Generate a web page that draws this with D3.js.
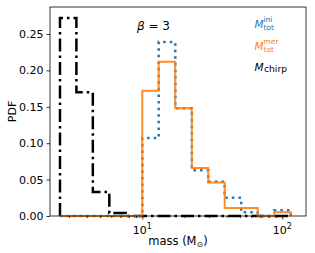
<!DOCTYPE html>
<html>
<head>
<meta charset="utf-8">
<script src="https://d3js.org/d3.v7.min.js"></script>
<style>
  body { margin: 0; background: #fff; }
  text { font-family: "DejaVu Sans", sans-serif; }
</style>
</head>
<body>
<div id="vis-container"></div>
<script>
// shared log-spaced bin edges (mass, Msun)
const binEdges = [2.58, 3.38, 4.43, 5.81, 7.62, 10.0, 13.1, 17.2, 22.6, 29.6, 38.8, 50.9, 66.8, 87.6, 115];

// PDF per bin
const chirpPdf = [0.272, 0.170, 0.033, 0.004, 0, 0, 0, 0, 0, 0, 0, 0, 0, 0];
const merPdf   = [0, 0, 0, 0, 0, 0.172, 0.212, 0.148, 0.066, 0.046, 0.011, 0.011, 0, 0.005];
const iniPdf   = [0, 0, 0, 0, 0, 0.107, 0.239, 0.148, 0.063, 0.047, 0.025, 0.005, 0, 0.008];

const yTicks = [0, 0.05, 0.10, 0.15, 0.20, 0.25];
const xMajor = [10, 100];
const xMinor = [3, 4, 5, 6, 7, 8, 9, 20, 30, 40, 50, 60, 70, 80, 90];

const width = 315, height = 253;
const plotLeft = 50, plotRight = 306, plotTop = 7, plotBottom = 216;

const svg = d3.select("#vis-container")
  .append("svg")
  .attr("width", width)
  .attr("height", height);

const xScale = d3.scaleLog()
  .domain([2.189, 147.9])
  .range([plotLeft, plotRight]);

const yScale = d3.scaleLinear()
  .domain([0, 0.2871])
  .range([plotBottom, plotTop]);

// step outline like matplotlib histtype="step"
function stepPoints(vals) {
  const pts = [[binEdges[0], 0]];
  vals.forEach((v, i) => {
    pts.push([binEdges[i], v]);
    pts.push([binEdges[i + 1], v]);
  });
  pts.push([binEdges[binEdges.length - 1], 0]);
  return pts;
}

const line = d3.line()
  .x(d => xScale(d[0]))
  .y(d => yScale(d[1]));

const plot = svg.append("g");

plot.append("path")
  .attr("d", line(stepPoints(chirpPdf)))
  .attr("fill", "none")
  .attr("stroke", "#000")
  .attr("stroke-width", 2.5)
  .attr("stroke-dasharray", "13,4,2.5,4");

plot.append("path")
  .attr("d", line(stepPoints(iniPdf)))
  .attr("fill", "none")
  .attr("stroke", "#1f77b4")
  .attr("stroke-width", 2.5)
  .attr("stroke-dasharray", "2.5,4.1");

plot.append("path")
  .attr("d", line(stepPoints(merPdf)))
  .attr("fill", "none")
  .attr("stroke", "#ff7f0e")
  .attr("stroke-width", 2)
  .attr("stroke-opacity", 0.9);

// axes
const yAxis = d3.axisLeft(yScale)
  .tickValues(yTicks)
  .tickFormat(d3.format(".2f"))
  .tickSize(3.5)
  .tickPadding(3);
const gy = svg.append("g")
  .attr("transform", `translate(${plotLeft},0)`)
  .call(yAxis);

const xAxisMinor = d3.axisBottom(xScale)
  .tickValues(xMinor)
  .tickFormat("")
  .tickSize(2);
const gxm = svg.append("g")
  .attr("transform", `translate(0,${plotBottom})`)
  .call(xAxisMinor);

const xAxis = d3.axisBottom(xScale)
  .tickValues(xMajor)
  .tickFormat("")
  .tickSize(3.5);
const gx = svg.append("g")
  .attr("transform", `translate(0,${plotBottom})`)
  .call(xAxis);

[gy, gx, gxm].forEach(g => {
  g.select(".domain").remove();
  g.selectAll("line").attr("stroke", "#000").attr("stroke-width", 0.8);
  g.selectAll("text").attr("font-size", 11).attr("fill", "#000")
    .style("font-family", "DejaVu Sans");
});

// major x labels 10^1, 10^2
xMajor.forEach(v => {
  const t = svg.append("text")
    .attr("x", xScale(v))
    .attr("y", plotBottom + 18)
    .attr("text-anchor", "middle")
    .attr("font-size", 11);
  t.append("tspan").text("10");
  t.append("tspan").attr("font-size", 8).attr("dy", -5).text(Math.log10(v));
});

// frame
svg.append("rect")
  .attr("x", plotLeft)
  .attr("y", plotTop)
  .attr("width", plotRight - plotLeft)
  .attr("height", plotBottom - plotTop)
  .attr("fill", "none")
  .attr("stroke", "#000")
  .attr("stroke-width", 0.8);

// axis labels
svg.append("text")
  .attr("transform", `translate(16,${(plotTop + plotBottom) / 2}) rotate(-90)`)
  .attr("text-anchor", "middle")
  .attr("font-size", 11)
  .text("PDF");

const xl = svg.append("text")
  .attr("x", (plotLeft + plotRight) / 2)
  .attr("y", 245)
  .attr("text-anchor", "middle")
  .attr("font-size", 11.5);
xl.append("tspan").text("mass (M");
xl.append("tspan").attr("font-size", 8).attr("dy", 2).text("⊙");
xl.append("tspan").attr("dy", -2).text(")");

// beta annotation
const bt = svg.append("text")
  .attr("x", 137)
  .attr("y", 30)
  .attr("font-size", 12);
bt.append("tspan").attr("font-style", "italic").text("β");
bt.append("tspan").text(" = 3");

// legend labels
function massLabel(y, color, sup, sub) {
  svg.append("text")
    .attr("x", 254.5)
    .attr("y", y)
    .attr("fill", color)
    .attr("font-size", 10.5)
    .attr("font-style", "italic")
    .text("M");
  if (sup) {
    svg.append("text")
      .attr("x", 263.5).attr("y", y - 6.3)
      .attr("fill", color).attr("font-size", 7.5)
      .text(sup);
    svg.append("text")
      .attr("x", 263.5).attr("y", y + 1.5)
      .attr("fill", color).attr("font-size", 7.5)
      .text(sub);
  } else {
    svg.append("text")
      .attr("x", 264).attr("y", y + 1)
      .attr("fill", color).attr("font-size", 9.2)
      .text(sub);
  }
}
massLabel(28, "#1f77b4", "ini", "tot");
massLabel(50, "#ff7f0e", "mer", "tot");
massLabel(71, "#000", null, "chirp");
</script>
</body>
</html>
